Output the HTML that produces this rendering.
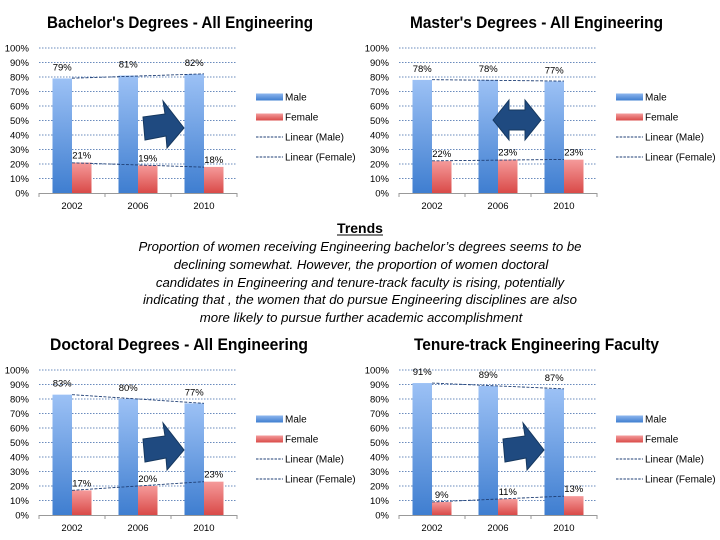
<!DOCTYPE html>
<html><head><meta charset="utf-8"><style>
html,body{margin:0;padding:0;background:#fff;}
svg{display:block;font-family:"Liberation Sans",sans-serif;}
</style></head><body>
<svg id="s" width="720" height="540" viewBox="0 0 720 540">
<defs>
<linearGradient id="gm" x1="0" y1="0" x2="0" y2="1"><stop offset="0" stop-color="#9cc1f5"/><stop offset="1" stop-color="#3f7ed0"/></linearGradient>
<linearGradient id="gf" x1="0" y1="0" x2="0" y2="1"><stop offset="0" stop-color="#f59a9a"/><stop offset="1" stop-color="#d94a48"/></linearGradient>
<linearGradient id="lm" x1="0" y1="0" x2="0" y2="1"><stop offset="0" stop-color="#8db6ee"/><stop offset="1" stop-color="#3f7ed0"/></linearGradient>
<linearGradient id="lf" x1="0" y1="0" x2="0" y2="1"><stop offset="0" stop-color="#f49c9c"/><stop offset="1" stop-color="#d94a48"/></linearGradient>
</defs>
<g>
<text x="360" y="233" text-anchor="middle" font-size="14" font-weight="bold">Trends</text>
<line x1="337" y1="235" x2="383" y2="235" stroke="#000" stroke-width="1"/>
<g font-size="13.2" font-style="italic" text-anchor="middle">
<text x="360" y="251">Proportion of women receiving Engineering bachelor’s degrees seems to be</text>
<text x="361" y="269">declining somewhat. However, the proportion of women doctoral</text>
<text x="360" y="287">candidates in Engineering and tenure-track faculty is rising, potentially</text>
<text x="360" y="304">indicating that , the women that do pursue Engineering disciplines are also</text>
<text x="361" y="322">more likely to pursue further academic accomplishment</text>
</g>
</g>
</svg>
<script>
const categories = ["2002","2006","2010"];
const yTicks = [0,10,20,30,40,50,60,70,80,90,100];
const titles = ["Bachelor's Degrees - All Engineering","Master's Degrees - All Engineering","Doctoral Degrees - All Engineering","Tenure-track Engineering Faculty"];
const maleValues = [[79,81,82],[78,78,77],[83,80,77],[91,89,87]];
const femaleValues = [[21,19,18],[22,23,23],[17,20,23],[9,11,13]];
const arrowTypes = ["right","double","right","right"];

const NS="http://www.w3.org/2000/svg";
const svg=document.getElementById('s');
function mk(tag,attrs,parent){const e=document.createElementNS(NS,tag);for(const k in attrs)e.setAttribute(k,attrs[k]);(parent||svg).appendChild(e);return e;}
const origins=[[0,0],[360,0],[0,322],[360,322]];
const titleBox=[[47,266],[410,253],[50,258],[414,245]];
titles.forEach((title,ci)=>{
  const [ox,oy]=origins[ci];
  const g=mk('g',{});
  
  
  const left=ox+39,right=ox+237,bottom=oy+193,top=oy+48;
  const yS=v=>bottom-(v/100)*(bottom-top);
  const band=(right-left)/categories.length;
  const xC=i=>left+band*(i+0.5);
  const t=mk('text',{x:titleBox[ci][0],y:oy+28,'font-size':'17','font-weight':'bold',textLength:titleBox[ci][1],lengthAdjust:'spacingAndGlyphs'},g);
  t.textContent=title;
  
  
  yTicks.forEach(v=>{
    if(v>0){const l=mk('line',{x1:left,x2:right,y1:yS(v),y2:yS(v),stroke:'#3a66a8','stroke-width':'0.8','stroke-dasharray':'1.5,1.5'},g);
    }
    const tx=mk('text',{x:left-10,y:yS(v)+3.5,'text-anchor':'end','font-size':'9.5'},g);
    tx.textContent=v+'%';
    
  });
  mk('line',{x1:left,x2:right,y1:bottom+0.5,y2:bottom+0.5,stroke:'#999','stroke-width':'1'},g);
  for(let i=0;i<=categories.length;i++) mk('line',{x1:left+band*i,x2:left+band*i,y1:bottom,y2:bottom+4,stroke:'#999'},g);
  const bw=19.5;
  categories.forEach((c,i)=>{
    const m=maleValues[ci][i],f=femaleValues[ci][i];
    const rm=mk('rect',{x:xC(i)-bw,y:yS(m),width:bw,height:bottom-yS(m),fill:'url(#gm)'},g);
    
    const rf=mk('rect',{x:xC(i),y:yS(f),width:bw,height:bottom-yS(f),fill:'url(#gf)'},g);
    
    const lm=mk('text',{x:xC(i)-bw/2,y:yS(m)-8,'text-anchor':'middle','font-size':'9.5'},g);lm.textContent=m+'%';
    
    const lf=mk('text',{x:xC(i)+bw/2,y:yS(f)-4,'text-anchor':'middle','font-size':'9.5'},g);lf.textContent=f+'%';
    
    const cx=mk('text',{x:xC(i),y:bottom+16,'text-anchor':'middle','font-size':'9.5'},g);cx.textContent=c;
    
  });
  [maleValues[ci],femaleValues[ci]].forEach((vals,si)=>{
    const n=vals.length,xs=vals.map((_,i)=>i);
    const mx=xs.reduce((a,b)=>a+b)/n,my=vals.reduce((a,b)=>a+b)/n;
    let num=0,den=0;xs.forEach((x,i)=>{num+=(x-mx)*(vals[i]-my);den+=(x-mx)*(x-mx);});
    const slope=num/den,b0=my-slope*mx;
    const tl=mk('line',{x1:xC(0),y1:yS(b0),x2:xC(n-1),y2:yS(b0+slope*(n-1)),stroke:'#1f3f75','stroke-width':'0.9','stroke-dasharray':'3,1.5'},g);
    
  });
  const lx=ox+256,ly=oy+97;
  const leg=[['Male','url(#lm)'],['Female','url(#lf)'],['Linear (Male)',null],['Linear (Female)',null]];
  leg.forEach((e,i)=>{
    const y=ly+i*20;
    if(e[1]) mk('rect',{x:lx,y:y-3.5,width:27,height:7,fill:e[1]},g);
    else mk('line',{x1:lx,x2:lx+27,y1:y,y2:y,stroke:'#1f3f75','stroke-dasharray':'2.5,1.2','stroke-width':'0.9'},g);
    const tt=mk('text',{x:lx+29,y:y+3.5,'font-size':'10'},g);tt.textContent=e[0];
    
  });
  let ap;
  if(arrowTypes[ci]==='right'){
    const ax=ox+143,ay=oy+107;
    ap=mk('path',{d:`M${ax} ${ay+10} L${ax+22} ${ay+7} L${ax+20} ${ay-6} L${ax+41} ${ay+21} L${ax+24} ${ay+41} L${ax+23} ${ay+29} L${ax+2} ${ay+33} Z`,fill:'#1f4a80',stroke:'#16385f','stroke-width':'1'},g);
  } else {
    const ax=ox+133,ay=oy+120;
    ap=mk('path',{d:`M${ax} ${ay} L${ax+16} ${ay-20} L${ax+16} ${ay-10} L${ax+32} ${ay-10} L${ax+32} ${ay-20} L${ax+48} ${ay} L${ax+32} ${ay+20} L${ax+32} ${ay+10} L${ax+16} ${ay+10} L${ax+16} ${ay+20} Z`,fill:'#1f4a80',stroke:'#16385f','stroke-width':'1'},g);
  }
  
});
</script>
</body></html>
